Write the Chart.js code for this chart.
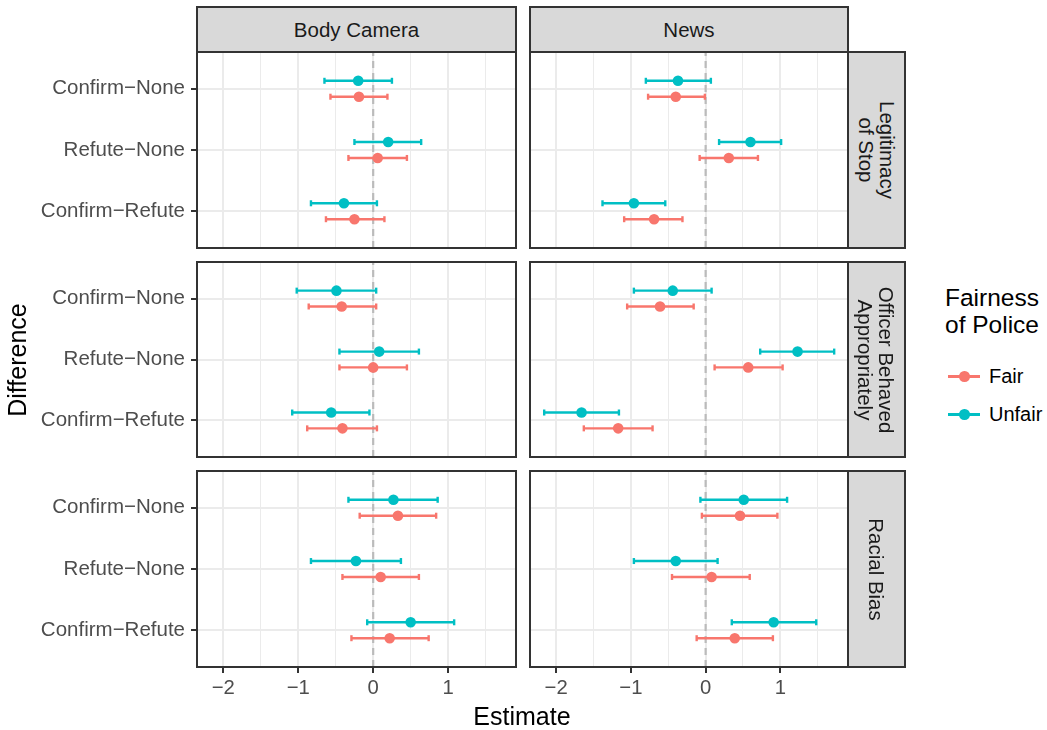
<!DOCTYPE html>
<html>
<head>
<meta charset="utf-8">
<script src="https://cdn.jsdelivr.net/npm/chart.js@4.4.1/dist/chart.umd.min.js"></script>
<style>
  html, body { margin: 0; padding: 0; background: #ffffff; }
  #root { position: relative; width: 1047px; height: 730px; overflow: hidden;
          font-family: "Liberation Sans", Arial, Helvetica, sans-serif; }
  canvas { position: absolute; }
  .strip { position: absolute; background: #D9D9D9; border: 2px solid #333333; box-sizing: border-box;
           color: #1A1A1A; font-size: 20.5px; display: flex; align-items: center; justify-content: center; }
  .vtext { transform: rotate(90deg); white-space: nowrap; text-align: center; line-height: 21px; }
  .txt { position: absolute; white-space: nowrap; }
</style>
</head>
<body>
<div id="root"></div>
<script>
// ---------------- data ----------------
const columns = ['Body Camera', 'News'];
const rowLabels = [['Legitimacy', 'of Stop'], ['Officer Behaved', 'Appropriately'], ['Racial Bias']];
const categories = ['Confirm\u2212None', 'Refute\u2212None', 'Confirm\u2212Refute'];
const seriesNames = ['Fair', 'Unfair'];
const xTickValues = [-2, -1, 0, 1];
const xTickLabels = ['\u22122', '\u22121', '0', '1'];
const xMinorValues = [-1.5, -0.5, 0.5, 1.5];

// each entry: [lower, estimate, upper] per category (Confirm-None, Refute-None, Confirm-Refute)
const bodyLegitFair     = [[-0.57, -0.19, 0.19], [-0.33, 0.06, 0.45], [-0.63, -0.25, 0.15]];
const bodyLegitUnfair   = [[-0.65, -0.20, 0.25], [-0.25, 0.20, 0.64], [-0.83, -0.39, 0.05]];
const newsLegitFair     = [[-0.77, -0.40, -0.01], [-0.08, 0.31, 0.70], [-1.09, -0.69, -0.31]];
const newsLegitUnfair   = [[-0.80, -0.37, 0.07], [0.18, 0.60, 1.01], [-1.38, -0.96, -0.54]];
const bodyOfficerFair   = [[-0.86, -0.42, 0.04], [-0.45, 0.00, 0.45], [-0.88, -0.41, 0.05]];
const bodyOfficerUnfair = [[-1.02, -0.49, 0.04], [-0.45, 0.08, 0.61], [-1.08, -0.56, -0.05]];
const newsOfficerFair   = [[-1.05, -0.61, -0.16], [0.12, 0.57, 1.03], [-1.63, -1.17, -0.71]];
const newsOfficerUnfair = [[-0.96, -0.44, 0.08], [0.73, 1.23, 1.72], [-2.16, -1.66, -1.16]];
const bodyRacialFair    = [[-0.18, 0.33, 0.84], [-0.41, 0.10, 0.61], [-0.29, 0.22, 0.74]];
const bodyRacialUnfair  = [[-0.33, 0.27, 0.86], [-0.83, -0.23, 0.37], [-0.08, 0.50, 1.08]];
const newsRacialFair    = [[-0.05, 0.46, 0.96], [-0.45, 0.08, 0.59], [-0.12, 0.39, 0.90]];
const newsRacialUnfair  = [[-0.07, 0.51, 1.09], [-0.96, -0.40, 0.16], [0.35, 0.91, 1.48]];

const panelData = [
  [[bodyLegitFair, bodyLegitUnfair], [newsLegitFair, newsLegitUnfair]],
  [[bodyOfficerFair, bodyOfficerUnfair], [newsOfficerFair, newsOfficerUnfair]],
  [[bodyRacialFair, bodyRacialUnfair], [newsRacialFair, newsRacialUnfair]]
];

// ---------------- layout / style ----------------
const FONT = '"Liberation Sans", Arial, Helvetica, sans-serif';
const COLORS = ['#F8766D', '#00BFC4'];
const PANEL_X = [[197, 516], [530, 848]];
const PANEL_Y = [[52, 248], [262, 457], [471, 667]];
const X_MIN = -2.35, X_MAX = 1.905;
const Y_MIN = 0.4, Y_MAX = 3.6;
const DODGE = 0.13;
const nCat = categories.length;
const root = document.getElementById('root');

const panelBorder = {
  id: 'panelBorder',
  afterDraw(chart) {
    const { ctx, chartArea: a } = chart;
    ctx.save();
    ctx.strokeStyle = '#333333';
    ctx.lineWidth = 2;
    ctx.strokeRect(a.left, a.top, a.right - a.left, a.bottom - a.top);
    ctx.restore();
  }
};

const isMajor = v => xTickValues.includes(v);
function zeroPad(s) { s.paddingTop = 0; s.paddingBottom = 0; s.paddingLeft = 0; s.paddingRight = 0; }

function makePanel(r, c) {
  const [L, R] = PANEL_X[c];
  const [T, B] = PANEL_Y[r];
  const left = c === 0 ? 0 : L - 3;
  const top = T - 3;
  const bottomExtra = r === 2 ? 44 : 3;
  const w = R + 3 - left;
  const h = B - T + 3 + bottomExtra;
  const canvas = document.createElement('canvas');
  canvas.width = w; canvas.height = h;
  canvas.style.left = left + 'px'; canvas.style.top = top + 'px';
  canvas.style.width = w + 'px'; canvas.style.height = h + 'px';
  root.appendChild(canvas);

  const datasets = [];
  const pair = panelData[r][c];
  seriesNames.forEach((name, si) => {
    const vals = pair[si];
    const off = si === 0 ? -DODGE : DODGE;
    datasets.push({
      label: name,
      data: vals.map((v, i) => ({ x: v[1], y: nCat - i + off })),
      pointRadius: 5.3, pointBackgroundColor: COLORS[si], pointBorderWidth: 0,
      order: 1
    });
    vals.forEach((v, i) => {
      datasets.push({
        label: name + ' CI',
        data: [{ x: v[0], y: nCat - i + off }, { x: v[2], y: nCat - i + off }],
        showLine: true, borderColor: COLORS[si], borderWidth: 2.4,
        pointStyle: 'line', rotation: 90, pointRadius: 3,
        pointBorderColor: COLORS[si], pointBorderWidth: 2.4,
        order: 2
      });
    });
  });
  datasets.push({
    label: 'zero',
    data: [{ x: 0, y: Y_MIN }, { x: 0, y: Y_MAX }],
    showLine: true, borderColor: '#BBBBBB', borderWidth: 2.2, borderDash: [7, 5],
    pointRadius: 0, order: 3
  });

  new Chart(canvas, {
    type: 'scatter',
    data: { datasets },
    plugins: [panelBorder],
    options: {
      responsive: false, animation: false, events: [],
      layout: { autoPadding: false, padding: { left: c === 0 ? 0 : 3, right: 3, top: 3, bottom: 0 } },
      plugins: { legend: { display: false }, tooltip: { enabled: false } },
      scales: {
        x: {
          type: 'linear', min: X_MIN, max: X_MAX, position: 'bottom',
          afterBuildTicks: s => { s.ticks = xTickValues.concat(xMinorValues).sort((a, b) => a - b).map(v => ({ value: v })); },
          afterFit: s => { s.height = bottomExtra; zeroPad(s); },
          border: { display: false },
          grid: {
            color: '#EBEBEB',
            lineWidth: ctx => (ctx.tick && isMajor(ctx.tick.value)) ? 2 : 1,
            drawTicks: r === 2, tickLength: 6, tickWidth: 2,
            tickColor: ctx => (ctx.tick && isMajor(ctx.tick.value)) ? '#333333' : 'rgba(0,0,0,0)'
          },
          ticks: {
            display: r === 2, autoSkip: false, maxRotation: 0, padding: r === 2 ? 3 : 0,
            color: '#4D4D4D', font: { family: FONT, size: 20.3 },
            callback: v => isMajor(v) ? xTickLabels[xTickValues.indexOf(v)] : ''
          }
        },
        y: {
          type: 'linear', min: Y_MIN, max: Y_MAX, position: 'left',
          afterBuildTicks: s => { s.ticks = categories.map((_, i) => ({ value: nCat - i })); },
          afterFit: s => { s.width = c === 0 ? L : 0; zeroPad(s); },
          border: { display: false },
          grid: { color: '#EBEBEB', lineWidth: 2, drawTicks: c === 0, tickLength: 6, tickWidth: 2, tickColor: '#333333' },
          ticks: {
            display: c === 0, autoSkip: false, padding: c === 0 ? 6 : 0,
            color: '#4D4D4D', font: { family: FONT, size: 20.5 },
            callback: v => categories[nCat - v]
          }
        }
      }
    }
  });
}

for (let r = 0; r < 3; r++) for (let c = 0; c < 2; c++) makePanel(r, c);

// ---------------- strips ----------------
function addDiv(cls, css, html) {
  const d = document.createElement('div');
  d.className = cls;
  Object.assign(d.style, css);
  d.innerHTML = html;
  root.appendChild(d);
  return d;
}
columns.forEach((name, c) => {
  const [L, R] = PANEL_X[c];
  addDiv('strip', { left: (L - 1) + 'px', top: '6px', width: (R - L + 2) + 'px', height: '47px' }, name);
});
rowLabels.forEach((lines, r) => {
  const [T, B] = PANEL_Y[r];
  addDiv('strip', { left: '847px', top: (T - 1) + 'px', width: '59px', height: (B - T + 2) + 'px' },
    '<div class="vtext">' + lines.join('<br>') + '</div>');
});

// ---------------- axis titles ----------------
addDiv('txt', { left: '372px', width: '300px', textAlign: 'center', top: '702px', fontSize: '25px', lineHeight: '28px', color: '#000' }, 'Estimate');
addDiv('txt', { left: '-133px', width: '300px', textAlign: 'center', top: '346px', fontSize: '25px', lineHeight: '28px', color: '#000', transform: 'rotate(-90deg)' }, 'Difference');

// ---------------- legend ----------------
addDiv('txt', { left: '945px', top: '284px', fontSize: '24.5px', lineHeight: '27px', color: '#000' }, 'Fairness<br>of Police');
seriesNames.forEach((name, si) => {
  const cy = si === 0 ? 376 : 414;
  addDiv('txt', { left: '948px', top: (cy - 1) + 'px', width: '32px', height: '2.5px', background: COLORS[si] }, '');
  addDiv('txt', { left: '959px', top: (cy - 5) + 'px', width: '10.5px', height: '10.5px', borderRadius: '50%', background: COLORS[si] }, '');
  addDiv('txt', { left: '989px', top: (cy - 12) + 'px', fontSize: '20px', lineHeight: '24px', color: '#000' }, name);
});
</script>
</body>
</html>
